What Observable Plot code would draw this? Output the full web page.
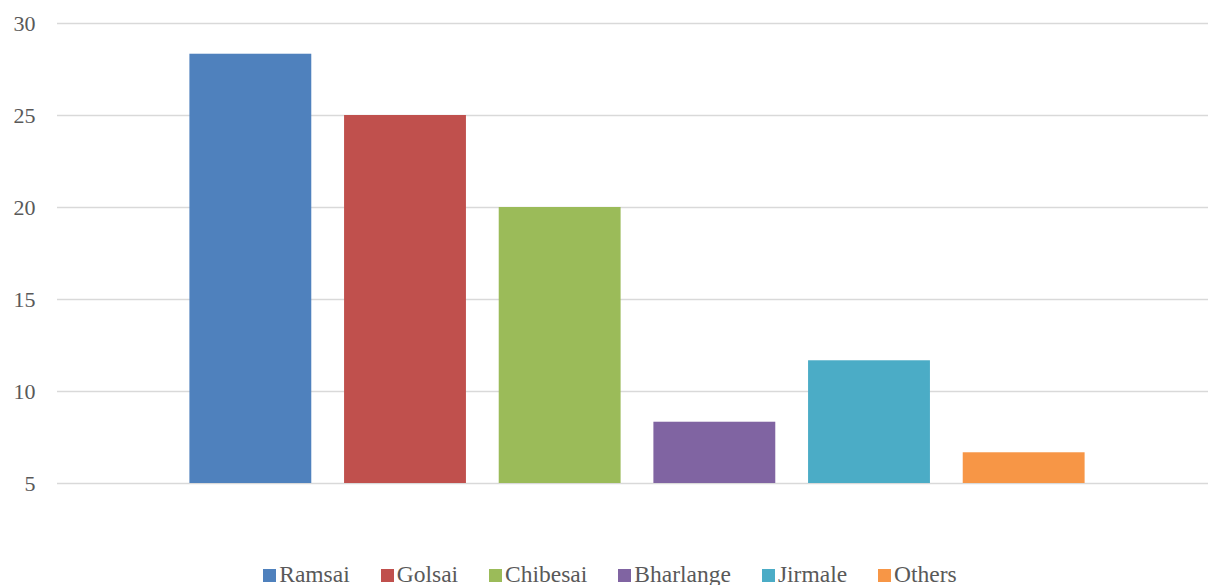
<!DOCTYPE html>
<html>
<head>
<meta charset="utf-8">
<script src="https://cdn.jsdelivr.net/npm/d3@7"></script>
<script src="https://cdn.jsdelivr.net/npm/@observablehq/plot@0.6"></script>
<style>
  html, body { margin: 0; padding: 0; background: #fff; }
  body { position: relative; width: 1208px; height: 585px; overflow: hidden; }
  #chart { width: 1208px; height: 548px; }
</style>
</head>
<body>
<div id="chart"></div>
<div id="legend"></div>
<script>
const categories = ["Ramsai", "Golsai", "Chibesai", "Bharlange", "Jirmale", "Others"];
const values = [28.33, 25, 20, 8.33, 11.67, 6.67];
const colors = ["#4F81BD", "#C0504D", "#9BBB59", "#8064A2", "#4BACC6", "#F79646"];
const yTicks = [5, 10, 15, 20, 25, 30];

const data = categories.map((c, i) => ({category: c, value: values[i]}));
const serif = "'Liberation Serif', 'Times New Roman', serif";

const plot = Plot.plot({
  width: 1208,
  height: 548,
  marginLeft: 57,
  marginRight: 0,
  marginTop: 23,
  marginBottom: 65,
  style: {fontFamily: serif, fontSize: "22px", color: "#595959", background: "#fff"},
  x: {domain: categories, range: [57, 1217], paddingInner: 0.212, paddingOuter: 0.856, round: false, axis: null},
  y: {domain: [5, 30], ticks: yTicks, grid: false, label: null},
  color: {domain: categories, range: colors},
  marks: [
    Plot.ruleY(yTicks, {stroke: "#d9d9d9", strokeWidth: 1.3}),
    Plot.rectY(data, {x: "category", y1: 5, y2: "value", fill: "category"}),
    Plot.axisY({ticks: yTicks, tickSize: 0, tickPadding: 22, label: null, fill: "#595959"})
  ]
});
document.getElementById("chart").appendChild(plot);

const legend = document.getElementById("legend");
Object.assign(legend.style, {
  position: "absolute", top: "562px", left: "6px", width: "1208px",
  display: "flex", justifyContent: "center", gap: "31px",
  fontFamily: serif, fontSize: "23.5px", color: "#595959", lineHeight: "24px",
  whiteSpace: "nowrap"
});
categories.forEach((c, i) => {
  const item = document.createElement("span");
  Object.assign(item.style, {display: "inline-flex", alignItems: "baseline"});
  const sw = document.createElement("span");
  Object.assign(sw.style, {display: "inline-block", width: "13px", height: "13px", marginRight: "3px", background: colors[i]});
  item.appendChild(sw);
  item.appendChild(document.createTextNode(c));
  legend.appendChild(item);
});
</script>
</body>
</html>
